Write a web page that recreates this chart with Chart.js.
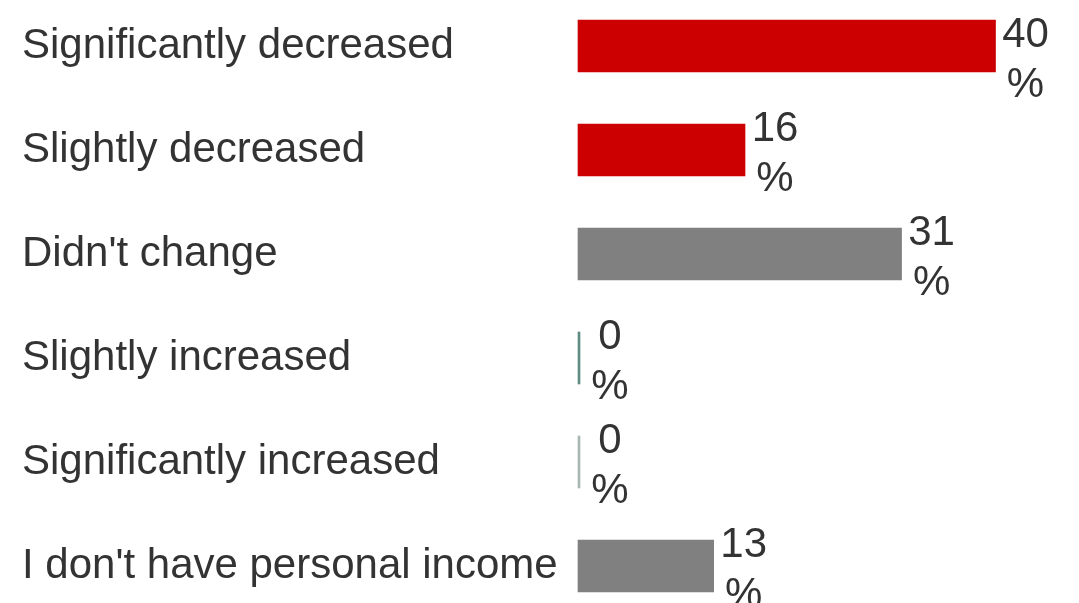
<!DOCTYPE html>
<html>
<head>
<meta charset="utf-8">
<script src="https://cdn.jsdelivr.net/npm/chart.js@4.4.1/dist/chart.umd.min.js"></script>
<style>
  html, body { margin: 0; padding: 0; background: #ffffff; }
  #wrap { width: 1079px; height: 603px; position: relative; }
</style>
</head>
<body>
<div id="wrap"><canvas id="chart"></canvas></div>
<script>
// Survey answers and their shares (percent)
const categories = [
  "Significantly decreased",
  "Slightly decreased",
  "Didn't change",
  "Slightly increased",
  "Significantly increased",
  "I don't have personal income"
];
const shares = [40, 16, 31, 0, 0, 13];
const barColors = ["#cc0000", "#cc0000", "#808080", "#5f8c82", "#a9b7b3", "#808080"];
const unitSuffix = "%";

const FONT = "'Liberation Sans', Arial, sans-serif";
const TEXT = "#333333";

// Two-line value labels ("40" over "%") to the right of each bar
const valueLabels = {
  id: "valueLabels",
  afterDatasetsDraw(chart) {
    const ctx = chart.ctx;
    const meta = chart.getDatasetMeta(0);
    const data = chart.data.datasets[0].data;
    ctx.save();
    ctx.fillStyle = TEXT;
    ctx.font = "42px " + FONT;
    ctx.textAlign = "center";
    ctx.textBaseline = "alphabetic";
    meta.data.forEach((bar, i) => {
      const x = bar.x + 30;
      const firstBaseline = Math.max(bar.y - 9, 47);
      ctx.fillText(String(data[i]), x, firstBaseline);
      ctx.fillText(unitSuffix, x, firstBaseline + 50);
    });
    ctx.restore();
  }
};

new Chart(document.getElementById("chart"), {
  type: "bar",
  data: {
    labels: categories,
    datasets: [{
      data: shares,
      backgroundColor: barColors,
      borderWidth: 0,
      barThickness: 52,
      minBarLength: 2,
      clip: false
    }]
  },
  options: {
    indexAxis: "y",
    responsive: true,
    maintainAspectRatio: false,
    animation: false,
    layout: { padding: { left: 22, right: 0, top: 46, bottom: 37 } },
    plugins: {
      legend: { display: false },
      tooltip: { enabled: false }
    },
    scales: {
      x: {
        display: false,
        min: 0,
        max: 48
      },
      y: {
        offset: false,
        border: { display: false },
        grid: { display: false, drawTicks: false },
        ticks: {
          crossAlign: "far",
          color: TEXT,
          padding: 0,
          font: { family: FONT, size: 42 }
        },
        afterFit(scale) { scale.width = 556; }
      }
    }
  },
  plugins: [valueLabels]
});
</script>
</body>
</html>
